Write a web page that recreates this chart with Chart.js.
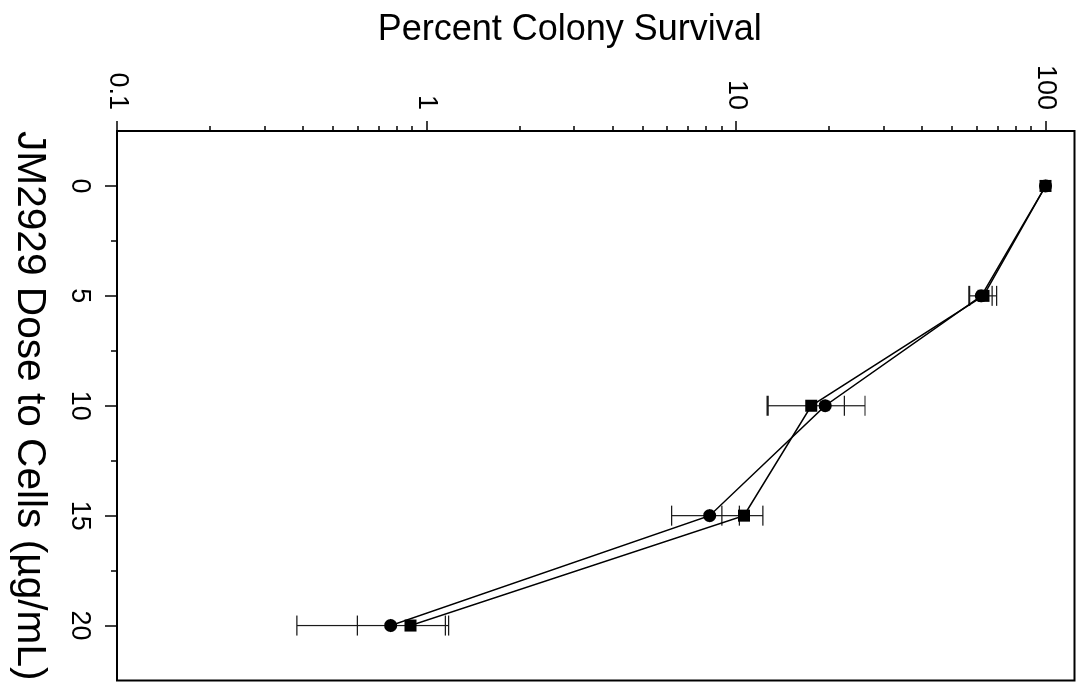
<!DOCTYPE html>
<html>
<head>
<meta charset="utf-8">
<title>Percent Colony Survival</title>
<script src="https://cdn.jsdelivr.net/npm/chart.js@4.4.1/dist/chart.umd.min.js"></script>
<style>
  html, body { margin: 0; padding: 0; background: #fff; overflow: hidden; }
  /* the plot is laid out upright, then turned a quarter turn clockwise */
  #wrap {
    position: absolute; left: 0; top: 0;
    width: 689px; height: 1083px;
    transform-origin: 0 0;
    transform: rotate(90deg) translateY(-100%);
  }
  #survivalChart { display: block; }
</style>
</head>
<body>
<div id="wrap"><canvas id="survivalChart" width="689" height="1083"></canvas></div>
<script>
// ========== DATA ==========
const doses = [0, 5, 10, 15, 20];

// squares
const survivalA = [100, 63, 17.5, 10.6, 0.888];
const errorA = [0, 6.5, 4.9, 1.6, 0.29];

// circles
const survivalB = [100, 62, 19.4, 8.22, 0.766];
const errorB = [0, 5.2, 6.7, 2.03, 0.385];

const doseTicks = [0, 5, 10, 15, 20];
const doseMinorTicks = [2.5, 7.5, 12.5, 17.5];
const survivalTicks = [0.1, 1, 10, 100];
const survivalMinorTicks = [
    0.2, 0.3, 0.4, 0.5, 0.6, 0.7, 0.8, 0.9,
    2, 3, 4, 5, 6, 7, 8, 9,
    20, 30, 40, 50, 60, 70, 80, 90
];

const FONT = "'Liberation Sans', Arial, Helvetica, sans-serif";
Chart.defaults.font.family = FONT;
Chart.defaults.color = '#000';

function toPoints(values) {
    return doses.map((d, i) => ({ x: d, y: values[i] }));
}

/**
 * Error bars (mean +/- sd) along the survival axis
 */
const errorBars = {
    id: 'errorBars',
    beforeDatasetsDraw(chart) {
        const { ctx, scales: { x, y } } = chart;
        const series = [[survivalA, errorA], [survivalB, errorB]];
        ctx.save();
        ctx.strokeStyle = '#1a1a1a';
        ctx.lineWidth = 1.2;
        ctx.beginPath();
        series.forEach(([vals, errs]) => {
            vals.forEach((v, i) => {
                if (!errs[i]) return;
                const px = x.getPixelForValue(doses[i]);
                const lo = y.getPixelForValue(v - errs[i]);
                const hi = y.getPixelForValue(v + errs[i]);
                ctx.moveTo(px, lo); ctx.lineTo(px, hi);
                ctx.moveTo(px - 10, lo); ctx.lineTo(px + 10, lo);
                ctx.moveTo(px - 10, hi); ctx.lineTo(px + 10, hi);
            });
        });
        ctx.stroke();
        ctx.restore();
    }
};

/**
 * Frame, tick marks and the survival axis title
 */
const frameAndTicks = {
    id: 'frameAndTicks',
    afterDraw(chart) {
        const { ctx, chartArea: a, scales: { x, y } } = chart;
        ctx.save();
        ctx.strokeStyle = '#000';
        ctx.lineWidth = 2;
        ctx.strokeRect(a.left, a.top, a.right - a.left, a.bottom - a.top);

        ctx.lineWidth = 1.5;
        ctx.beginPath();
        doseTicks.forEach(v => {
            const px = Math.round(x.getPixelForValue(v));
            ctx.moveTo(px, a.bottom); ctx.lineTo(px, a.bottom + 12);
        });
        doseMinorTicks.forEach(v => {
            const px = Math.round(x.getPixelForValue(v));
            ctx.moveTo(px, a.bottom); ctx.lineTo(px, a.bottom + 6);
        });
        survivalTicks.forEach(v => {
            const py = Math.round(y.getPixelForValue(v));
            ctx.moveTo(a.left, py); ctx.lineTo(a.left - 10, py);
        });
        survivalMinorTicks.forEach(v => {
            const py = Math.round(y.getPixelForValue(v));
            ctx.moveTo(a.left, py); ctx.lineTo(a.left - 5, py);
        });
        ctx.stroke();

        // y title, turned to read along the axis
        ctx.translate(30.5, (a.top + a.bottom) / 2 + 26);
        ctx.rotate(-Math.PI / 2);
        ctx.fillStyle = '#000';
        ctx.font = '36px ' + FONT;
        ctx.textAlign = 'center';
        ctx.textBaseline = 'middle';
        ctx.fillText('Percent Colony Survival', 0, 0);
        ctx.restore();
    }
};

let survivalChart = new Chart(document.getElementById('survivalChart'), {
    type: 'line',
    data: {
        datasets: [
            {
                label: 'Squares',
                data: toPoints(survivalA),
                borderColor: '#000',
                backgroundColor: '#000',
                borderWidth: 1.5,
                pointStyle: 'rect',
                pointRadius: 8.5,
                pointBorderWidth: 0,
                tension: 0
            },
            {
                label: 'Circles',
                data: toPoints(survivalB),
                borderColor: '#000',
                backgroundColor: '#000',
                borderWidth: 1.5,
                pointStyle: 'circle',
                pointRadius: 6.5,
                pointBorderWidth: 0,
                tension: 0
            }
        ]
    },
    options: {
        responsive: false,
        animation: false,
        layout: { padding: { left: 0, right: 7, top: 6, bottom: 0 } },
        plugins: {
            legend: { display: false },
            tooltip: { enabled: false }
        },
        scales: {
            x: {
                type: 'linear',
                position: 'bottom',
                min: -2.5,
                max: 22.5,
                afterBuildTicks: scale => {
                    scale.ticks = doseTicks.map(v => ({ value: v }));
                },
                afterFit: scale => {
                    scale.height = 117;
                    scale.paddingLeft = 0;
                    scale.paddingRight = 0;
                },
                ticks: {
                    font: { size: 27 },
                    padding: 13,
                    autoSkip: false,
                    maxRotation: 0,
                    minRotation: 0,
                    callback: v => String(v)
                },
                grid: { display: false },
                border: { display: false },
                title: {
                    display: true,
                    text: 'JM2929 Dose to Cells (µg/mL)',
                    font: { size: 41 },
                    padding: { top: 0, bottom: 5 }
                }
            },
            y: {
                type: 'logarithmic',
                position: 'left',
                min: 0.1,
                max: 124,
                afterBuildTicks: scale => {
                    scale.ticks = survivalTicks.map(v => ({ value: v }));
                },
                afterFit: scale => {
                    scale.width = 131;
                    scale.paddingTop = 0;
                    scale.paddingBottom = 0;
                },
                ticks: {
                    font: { size: 27 },
                    padding: 13,
                    autoSkip: false,
                    callback: v => String(v)
                },
                grid: { display: false },
                border: { display: false }
            }
        }
    },
    plugins: [errorBars, frameAndTicks]
});
</script>
</body>
</html>
